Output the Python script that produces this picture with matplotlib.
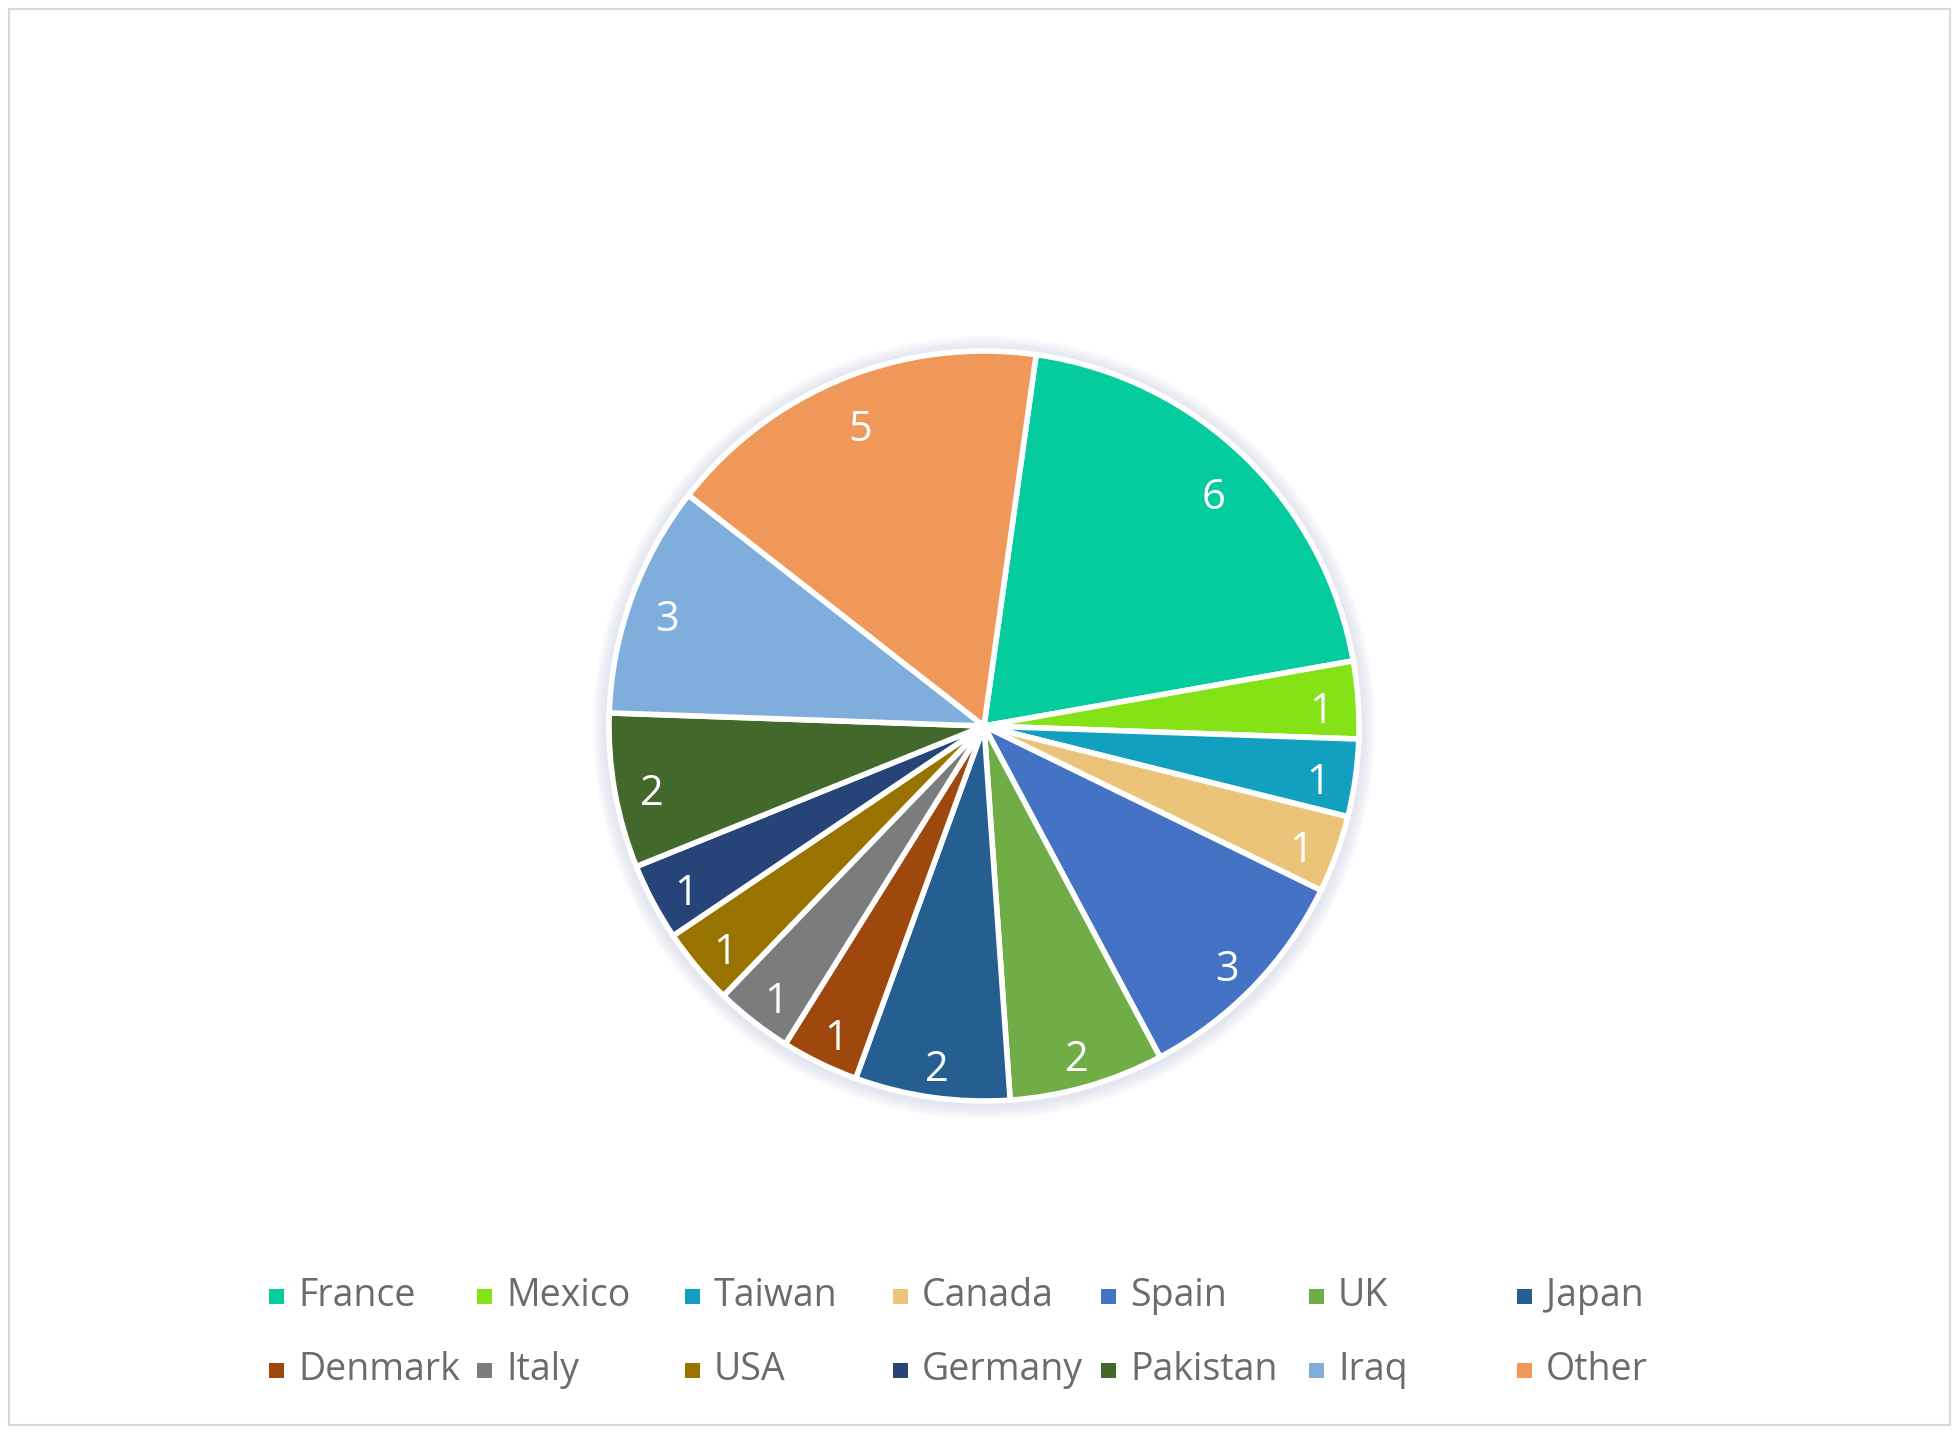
import matplotlib.pyplot as plt
import matplotlib.transforms as mtransforms
import numpy as np
from matplotlib.patches import Circle, Rectangle

countries = ["France", "Mexico", "Taiwan", "Canada", "Spain", "UK", "Japan",
             "Denmark", "Italy", "USA", "Germany", "Pakistan", "Iraq", "Other"]
counts = [6, 1, 1, 1, 3, 2, 2, 1, 1, 1, 1, 2, 3, 5]
colors = ["#05CC9F", "#84E216", "#13A0C0", "#EBC47A", "#4472C4", "#70AD47", "#255E91",
          "#9E480E", "#7C7C7C", "#997300", "#264478", "#43682B", "#7FAEDD", "#F0975A"]

plt.rcParams["font.family"] = ["Open Sans", "DejaVu Sans"]

fig = plt.figure(figsize=(19.6, 14.31), dpi=100)
fig.patch.set_facecolor("white")

# outer chart frame
fig.patches.append(Rectangle((9 / 1960, 6 / 1431), 1941 / 1960, 1416 / 1431,
                             transform=fig.transFigure, fill=False,
                             edgecolor="#d9d9d9", linewidth=1.5))

ax = fig.add_axes([609 / 1960, 330 / 1431, 750 / 1960, 750 / 1431])
ax.set_aspect("equal")
ax.axis("off")

# soft shadow around the pie
for k in range(12):
    ax.add_patch(Circle((0, -0.004), 1.0 + k * 0.004, facecolor="#cfd3e6",
                        edgecolor="none", alpha=0.07, zorder=0, clip_on=False))

wedges, _ = ax.pie(counts, colors=colors, startangle=82, counterclock=False,
                   wedgeprops=dict(edgecolor="white", linewidth=4))
for w in wedges:
    w.set_zorder(2)
    w.set_clip_on(False)

# data labels, big slices a bit further in (like Excel's best fit)
shift = mtransforms.ScaledTranslation(0, -7 / 72, fig.dpi_scale_trans)
for w, c in zip(wedges, counts):
    ang = np.deg2rad((w.theta1 + w.theta2) / 2)
    d = 0.88 if c >= 5 else 0.9
    ax.text(d * np.cos(ang), d * np.sin(ang), str(c), color="white", fontsize=30,
            ha="center", va="center", zorder=3, transform=ax.transData + shift)

ax.set_xlim(-1, 1)
ax.set_ylim(-1, 1)

# legend, laid out in equal-width columns like the original
x0, dx = 276 / 1960, 208 / 1960
rows_y = [1 - 1296 / 1431, 1 - 1370 / 1431]
sq_w, sq_h = 15 / 1960, 15 / 1431
for i, (name, col) in enumerate(zip(countries, colors)):
    r, c = divmod(i, 7)
    x = x0 + c * dx
    y = rows_y[r]
    fig.patches.append(Rectangle((x - sq_w / 2, y - sq_h / 2), sq_w, sq_h,
                                 transform=fig.transFigure, facecolor=col,
                                 edgecolor="none"))
    fig.text(x + 22 / 1960, y, name, fontsize=27, color="#6b6b6b",
             va="center", ha="left")

fig.savefig("out.png", dpi=100, facecolor="white")
